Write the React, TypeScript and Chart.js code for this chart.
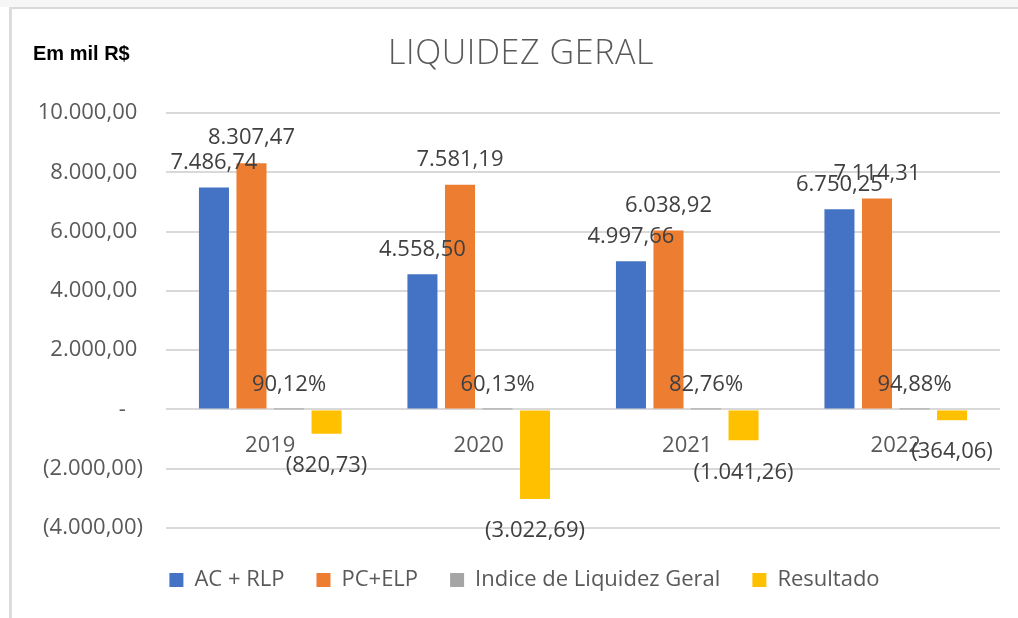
import React, { useEffect, useRef } from "react";
import { Chart, registerables } from "chart.js";

Chart.register(...registerables);

const categories = ["2019", "2020", "2021", "2022"];
const acRlp = [7486.74, 4558.5, 4997.66, 6750.25];
const pcElp = [8307.47, 7581.19, 6038.92, 7114.31];
const indiceLiquidez = [0.9012, 0.6013, 0.8276, 0.9488];
const resultado = [-820.73, -3022.69, -1041.26, -364.06];
const seriesNames = ["AC + RLP", "PC+ELP", "Indice de Liquidez Geral", "Resultado"];
const seriesColors = ["#4472C4", "#ED7D31", "#A5A5A5", "#FFC000"];
const yTicks = [-4000, -2000, 0, 2000, 4000, 6000, 8000, 10000];

const FONT = "'Open Sans', 'DejaVu Sans', sans-serif";

function fmtNum(v: number): string {
  const abs = Math.abs(v);
  const fixed = abs.toFixed(2);
  const [intPart, dec] = fixed.split(".");
  const withDots = intPart.replace(/\B(?=(\d{3})+(?!\d))/g, ".");
  const s = withDots + "," + dec;
  return v < 0 ? "(" + s + ")" : s;
}

function fmtTick(v: number): string {
  if (v === 0) return "-   ";
  if (v < 0) return fmtNum(v);
  return fmtNum(v) + " ";
}

function fmtPct(v: number): string {
  return (v * 100).toFixed(2).replace(".", ",") + "%";
}

const labelsPlugin = {
  id: "barLabels",
  afterLayout(chart: any) {
    const lg = chart.legend;
    if (lg) {
      lg.left = 49;
      lg.right = 1000;
      lg.top += 9;
      lg.bottom += 9;
    }
  },
  afterDatasetsDraw(chart: any) {
    const ctx = chart.ctx;
    ctx.save();
    ctx.font = "22px " + FONT;
    ctx.fillStyle = "#404040";
    ctx.textAlign = "center";
    ctx.textBaseline = "middle";
    chart.data.datasets.forEach((ds: any, di: number) => {
      const meta = chart.getDatasetMeta(di);
      meta.data.forEach((el: any, i: number) => {
        const v = ds.data[i];
        const text = di === 2 ? fmtPct(v) : fmtNum(v);
        const y = v >= 0 ? el.y - 25 : el.y + 32;
        ctx.fillText(text, el.x, y);
      });
    });
    ctx.restore();
  },
  afterDraw(chart: any) {
    const ctx = chart.ctx;
    ctx.save();
    ctx.textBaseline = "middle";
    ctx.fillStyle = "#595959";
    ctx.textAlign = "center";
    ctx.font = "300 34px " + FONT;
    try { (ctx as any).letterSpacing = "0.6px"; } catch (e) {}
    ctx.fillText("LIQUIDEZ GERAL", 521, 54);
    try { (ctx as any).letterSpacing = "0px"; } catch (e) {}
    ctx.fillStyle = "#000000";
    ctx.textAlign = "left";
    ctx.font = "bold 20px 'Liberation Sans', Arial, sans-serif";
    ctx.fillText("Em mil R$", 33, 54);
    ctx.restore();
  },
};

export default function App() {
  const ref = useRef<HTMLCanvasElement | null>(null);
  useEffect(() => {
    if (!ref.current) return;
    const data = [acRlp, pcElp, indiceLiquidez, resultado];
    const chart = new Chart(ref.current, {
      type: "bar",
      data: {
        labels: categories,
        datasets: data.map((d, i) => ({
          label: seriesNames[i],
          data: d,
          backgroundColor: seriesColors[i],
          borderWidth: 0,
          categoryPercentage: 0.72,
          barPercentage: 0.8,
        })),
      },
      options: {
        animation: false,
        responsive: false,
        devicePixelRatio: 1,
        layout: { padding: { left: 0, right: 18, top: 113, bottom: 26 } },
        plugins: {
          title: { display: false },
          tooltip: { enabled: false },
          legend: {
            position: "bottom",
            labels: {
              font: { family: FONT, size: 22 },
              color: "#595959",
              boxWidth: 14,
              boxHeight: 14,
              padding: 32,
            },
          },
        },
        scales: {
          x: {
            position: { y: 0 } as any,
            grid: { display: false, drawTicks: false },
            border: { display: false },
            ticks: { font: { family: FONT, size: 22 }, color: "#595959", padding: 23 },
          },
          y: {
            min: -4000,
            max: 10000,
            afterBuildTicks(scale: any) {
              scale.ticks = yTicks.map((v) => ({ value: v }));
            },
            afterFit(scale: any) {
              scale.width = 166;
            },
            grid: { color: "#d9d9d9", lineWidth: 2, drawTicks: false },
            border: { display: false },
            ticks: {
              font: { family: FONT, size: 22 },
              color: "#595959",
              padding: 23,
              callback: (v: any) => fmtTick(Number(v)),
            },
          },
        },
      },
      plugins: [labelsPlugin],
    });
    return () => chart.destroy();
  }, []);

  return (
    <div style={{ position: "absolute", left: 0, top: 0, width: 1018, height: 618, background: "#ffffff", overflow: "hidden" }}>
      <div style={{ position: "absolute", left: 0, top: 0, width: 1018, height: 7, background: "#f6f6f6" }} />
      <div style={{ position: "absolute", left: 9, top: 7, width: 1009, height: 2, background: "#d9d9d9" }} />
      <div style={{ position: "absolute", left: 9, top: 7, width: 3, height: 611, background: "#dcdcdc" }} />
      <canvas ref={ref} width={1018} height={618} style={{ position: "absolute", left: 0, top: 0, width: 1018, height: 618 }} />
    </div>
  );
}
